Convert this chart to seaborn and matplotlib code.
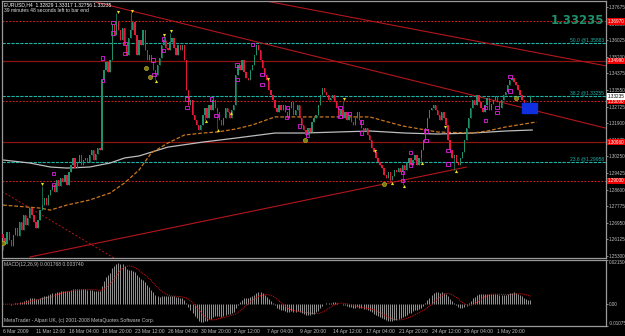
import numpy as np
import pandas as pd
import matplotlib
matplotlib.use("Agg")
import matplotlib.pyplot as plt
import seaborn as sns

# EURUSD H4 closes (6 Mar 2009 .. 5 May 2009)
closes = [
    1.2619, 1.2589, 1.2649, 1.2609, 1.2579, 1.2634, 1.2669, 1.2629,
    1.2699, 1.2659, 1.2733, 1.2684, 1.2719, 1.2768, 1.2733, 1.2699,
    1.2669, 1.2709, 1.2758, 1.2783, 1.2818, 1.2783, 1.2833, 1.2858,
    1.2883, 1.2848, 1.2907, 1.2878, 1.2917, 1.2897, 1.2932, 1.2883,
    1.2947, 1.2982, 1.3017, 1.2967, 1.2997, 1.3032, 1.2982, 1.3007,
    1.3017, 1.2997, 1.3032, 1.3057, 1.3007, 1.3037, 1.3066, 1.3057,
    1.3404, 1.3454, 1.3494, 1.3444, 1.3504, 1.3678, 1.3628, 1.3693,
    1.3653, 1.3603, 1.3663, 1.3578, 1.3529, 1.3613, 1.3653, 1.3693,
    1.3628, 1.3529, 1.3603, 1.3578, 1.3653, 1.3554, 1.3504, 1.3529,
    1.3494, 1.3454, 1.3429, 1.3479, 1.3514, 1.3578, 1.3603, 1.3563,
    1.3554, 1.3593, 1.3613, 1.3563, 1.3529, 1.3578, 1.3554, 1.3578,
    1.3504, 1.3355, 1.3280, 1.3305, 1.3230, 1.3206, 1.3181, 1.3156,
    1.3181, 1.3230, 1.3265, 1.3216, 1.3280, 1.3255, 1.3305, 1.3265,
    1.3245, 1.3206, 1.3181, 1.3216, 1.3265, 1.3245, 1.3216, 1.3255,
    1.3280, 1.3429, 1.3479, 1.3454, 1.3504, 1.3444, 1.3414, 1.3404,
    1.3454, 1.3479, 1.3529, 1.3578, 1.3554, 1.3504, 1.3464, 1.3429,
    1.3404, 1.3355, 1.3330, 1.3305, 1.3265, 1.3245, 1.3280, 1.3255,
    1.3280, 1.3245, 1.3216, 1.3265, 1.3295, 1.3230, 1.3255, 1.3280,
    1.3216, 1.3181, 1.3156, 1.3131, 1.3166, 1.3146, 1.3196, 1.3216,
    1.3230, 1.3280, 1.3330, 1.3365, 1.3345, 1.3330, 1.3305, 1.3315,
    1.3330, 1.3295, 1.3265, 1.3230, 1.3255, 1.3216, 1.3245, 1.3206,
    1.3230, 1.3196, 1.3181, 1.3216, 1.3245, 1.3206, 1.3166, 1.3156,
    1.3166, 1.3131, 1.3106, 1.3066, 1.3047, 1.3017, 1.2997, 1.2982,
    1.2967, 1.2932, 1.2917, 1.2947, 1.2907, 1.2927, 1.2957, 1.2947,
    1.2967, 1.2947, 1.2982, 1.2957, 1.2997, 1.3017, 1.2982, 1.3007,
    1.3032, 1.2982, 1.3017, 1.3057, 1.3106, 1.3166, 1.3216, 1.3255,
    1.3265, 1.3280, 1.3255, 1.3230, 1.3206, 1.3245, 1.3216, 1.3181,
    1.3106, 1.3057, 1.3017, 1.3032, 1.2997, 1.2982, 1.3017, 1.3047,
    1.3106, 1.3166, 1.3216, 1.3265, 1.3305, 1.3280, 1.3330, 1.3295,
    1.3265, 1.3245, 1.3280, 1.3315, 1.3255, 1.3285, 1.3305, 1.3325,
    1.3295, 1.3265, 1.3305, 1.3330, 1.3345, 1.3380, 1.3404, 1.3414,
    1.3394, 1.3380, 1.3355, 1.3330, 1.3305, 1.3280, 1.3265, 1.3283,
    1.33235,
]
first_open = 1.2640
last_ohlc = (1.32829, 1.33317, 1.32756, 1.33235)

# wick extremes that stand out (bar -> price)
spike_highs = {19: 1.2880, 55: 1.3735, 62: 1.3740, 78: 1.3620, 81: 1.3640,
               128: 1.3400, 165: 1.3300, 180: 1.3045, 214: 1.3165}
spike_lows = {0: 1.2560, 74: 1.3405, 98: 1.3205, 104: 1.3160, 110: 1.3245,
              188: 1.2898, 194: 1.2883, 203: 1.2997, 219: 1.2958}

# moving averages read at a few points (bar, price)
ma_grey_bars = [0, 13, 23, 31, 42, 52, 59, 66, 80, 97, 113, 132, 146, 162, 178, 195, 211, 228, 244, 257]
ma_grey_vals = [1.3007, 1.2992, 1.2972, 1.2967, 1.2972, 1.2992, 1.3017, 1.3027, 1.3071, 1.3096,
                1.3116, 1.3141, 1.3141, 1.3146, 1.3151, 1.3141, 1.3136, 1.3141, 1.3151, 1.3156]
ma_orange_bars = [0, 18, 23, 31, 42, 52, 59, 66, 72, 80, 88, 97, 104, 113, 121, 132, 146, 162, 178,
                  194, 211, 228, 235, 244, 259]
ma_orange_vals = [1.2783, 1.2768, 1.2758, 1.2783, 1.2808, 1.2843, 1.2893, 1.2957, 1.3042, 1.3091,
                  1.3131, 1.3141, 1.3146, 1.3161, 1.3181, 1.3221, 1.3221, 1.3221, 1.3221, 1.3176,
                  1.3146, 1.3141, 1.3151, 1.3171, 1.3196]

# horizontal levels
red_dash_levels = [1.3697, 1.3300, 1.2903]
red_solid_levels = [1.3499, 1.3096]
fib_levels = [1.35883, 1.33255, 1.29958]
fib_names = ["50.0", "38.2", "23.6"]

# trend lines (two anchors each: bar, price)
trend_a = [(56, 1.3764), (122, 1.3597)]
trend_b = [(125, 1.3802), (293, 1.3474)]
trend_c = [(13, 1.2525), (225, 1.2972)]
trend_d = [(0, 1.2848), (53, 1.2525)]

# markers
sq_bars = [53.4, 53.4, 59.2, 59.2, 48.5, 48.5, 24.3, 24.3, 77.7, 77.7, 72.8, 73.3, 89.3, 89.3,
           101.4, 103.4, 113.6, 113.6, 121.3, 125.7, 125.7, 138.3, 137.4, 143.7, 147.6, 163.6,
           163.6, 168.0, 173.8, 173.8, 193.7, 193.7, 198.0, 198.0, 205.3, 205.3, 216.0, 216.0,
           234.0, 234.0, 239.8, 239.8, 246.1, 246.1]
sq_vals = [1.3688, 1.3638, 1.3588, 1.3534, 1.3514, 1.3404, 1.2942, 1.2883, 1.3608, 1.3549,
           1.3504, 1.3434, 1.3310, 1.3270, 1.3310, 1.3226, 1.3479, 1.3409, 1.3583, 1.3434,
           1.3380, 1.3270, 1.3216, 1.3176, 1.3131, 1.3270, 1.3221, 1.3240, 1.3196, 1.3141,
           1.2947, 1.2907, 1.3042, 1.2982, 1.3151, 1.3106, 1.3052, 1.2987, 1.3270, 1.3201,
           1.3270, 1.3245, 1.3424, 1.3350]
dn_bars = [55.8, 62.6, 78.1, 81.5, 165.5, 180.6, 214.6, 18.9, 128.6]
dn_vals = [1.3742, 1.3747, 1.3628, 1.3648, 1.3310, 1.3052, 1.3171, 1.2888, 1.3409]
up_bars = [74.3, 98.5, 104.4, 110.7, 188.8, 194.7, 203.4, 219.9]
up_vals = [1.3399, 1.3201, 1.3156, 1.3240, 1.2893, 1.2878, 1.2992, 1.2952]
dot_bars = [69.4, 71.3, 146.6, 184.9, 249.0, 0.0]
dot_vals = [1.3464, 1.3419, 1.3106, 1.2888, 1.3315, 1.2594]
box_bars = (252.0, 259.0)
box_vals = (1.3240, 1.3290)

price_ticks = [1.25300, 1.26125, 1.26950, 1.27775, 1.28600, 1.29425, 1.30250, 1.31075,
               1.31900, 1.32725, 1.33550, 1.34375, 1.35200, 1.36025, 1.36850, 1.37675]
date_labels = ["6 Mar 2009", "11 Mar 12:00", "16 Mar 04:00", "18 Mar 20:00", "23 Mar 12:00",
               "26 Mar 04:00", "30 Mar 20:00", "2 Apr 12:00", "7 Apr 04:00", "9 Apr 20:00",
               "14 Apr 12:00", "17 Apr 04:00", "21 Apr 20:00", "24 Apr 12:00", "29 Apr 04:00",
               "1 May 20:00"]
macd_top, macd_bottom = 0.021506, -0.010753

# ---- build frame
df = pd.DataFrame({"close": closes})
df["bar"] = np.arange(len(df))
df["open"] = df["close"].shift(1).fillna(first_open)
df.loc[df.index[-1], "open"] = last_ohlc[0]
df["high"] = df[["open", "close"]].max(axis=1)
df["low"] = df[["open", "close"]].min(axis=1)
for b, v in spike_highs.items():
    df.loc[b, "high"] = max(df.loc[b, "high"], v)
for b, v in spike_lows.items():
    df.loc[b, "low"] = min(df.loc[b, "low"], v)
df.loc[df.index[-1], "high"] = last_ohlc[1]
df.loc[df.index[-1], "low"] = last_ohlc[2]

ema12 = df["close"].ewm(span=12, adjust=False).mean()
ema26 = df["close"].ewm(span=26, adjust=False).mean()
df["macd"] = ema12 - ema26
df["signal"] = df["macd"].rolling(9, min_periods=1).mean()

sns.set_style("dark")
plt.rcParams["font.family"] = ["Liberation Sans", "DejaVu Sans"]
fg = "#c0c0c0"
up_col, dn_col = "#1f8f6c", "#e8173c"
fs = 3.6
fs_ax = 3.3

fig = plt.figure(figsize=(6.25, 3.36), dpi=100, facecolor="black")
ax = fig.add_axes([2 / 625, 1 - 258 / 336, 604 / 625, 257 / 336], facecolor="black")
ax2 = fig.add_axes([2 / 625, 1 - 326 / 336, 604 / 625, 66 / 336], facecolor="black")

xlim = (-0.5, 292.7)
for a in (ax, ax2):
    a.set_xlim(*xlim)
    a.grid(False)
    for s in a.spines.values():
        s.set_color("#9a9a9a")
        s.set_linewidth(0.9)
ax.set_ylim(1.2520, 1.3797)

# horizontal levels
for lv in red_dash_levels:
    ax.axhline(lv, color="#d01f1f", lw=0.7, ls=(0, (2, 1.5)), zorder=1)
for lv in red_solid_levels:
    ax.axhline(lv, color="#8e1414", lw=0.9, zorder=1)
for lv, nm in zip(fib_levels, fib_names):
    ax.axhline(lv, color="#1fb3a6", lw=0.8, ls=(0, (3, 1)), zorder=1)
    ax.text(0.997, lv + 0.0004, f"{nm} @{lv:.5f}", transform=ax.get_yaxis_transform(),
            ha="right", va="bottom", color="#1fb3a6", fontsize=fs)

# trend lines
ax.axline(trend_a[0], trend_a[1], color="#b3161c", lw=0.8, zorder=1)
ax.axline(trend_b[0], trend_b[1], color="#b3161c", lw=0.8, zorder=1)
ax.plot([trend_c[0][0], trend_c[1][0]], [trend_c[0][1], trend_c[1][1]], color="#b3161c", lw=0.8, zorder=1)
ax.axline(trend_d[0], trend_d[1], color="#b3161c", lw=0.7, ls=(0, (2, 2)), zorder=1)

# moving averages
sns.lineplot(x=ma_grey_bars, y=ma_grey_vals, ax=ax, color="#bdbdbd", lw=0.9, zorder=2)
sns.lineplot(x=ma_orange_bars, y=ma_orange_vals, ax=ax, color="#c9771e", lw=0.9,
             linestyle=(0, (3, 1.5)), zorder=2)

# candles
bull = df["close"] >= df["open"]
cols = np.where(bull, up_col, dn_col)
ax.vlines(df["bar"], df["low"], df["high"], colors=cols, lw=0.5, zorder=3)
body = (df["close"] - df["open"]).abs().clip(lower=0.00015)
ax.bar(df["bar"], body, bottom=df[["open", "close"]].min(axis=1), width=0.65, color=cols,
       linewidth=0, zorder=3)

# markers
ax.scatter(sq_bars, sq_vals, marker="s", s=5, facecolors="none", edgecolors="#e020e0", lw=0.6, zorder=4)
ax.scatter(dn_bars, dn_vals, marker="v", s=5, color="#e8e020", lw=0, zorder=4)
ax.scatter(up_bars, up_vals, marker="^", s=5, color="#e8e020", lw=0, zorder=4)
ax.scatter(dot_bars, dot_vals, marker="o", s=9, color="#7a7a10", edgecolors="#c8c030", lw=0.4, zorder=4)
ax.add_patch(plt.Rectangle((box_bars[0], box_vals[0]), box_bars[1] - box_bars[0],
                           box_vals[1] - box_vals[0], color="#1030e0", zorder=5))

# right price axis
ax.yaxis.tick_right()
ax.set_yticks(price_ticks)
ax.set_yticklabels([f"{t:.5f}" for t in price_ticks])
ax.tick_params(axis="y", colors=fg, labelsize=fs_ax, length=1.2, width=0.5, pad=0.6)
ax.tick_params(axis="x", bottom=False, labelbottom=False)
for lv in red_dash_levels + red_solid_levels:
    ax.text(1.0025, lv, f"{lv:.5f}", transform=ax.get_yaxis_transform(), ha="left", va="center",
            fontsize=fs_ax, color="white", clip_on=False, zorder=6,
            bbox=dict(boxstyle="square,pad=0.2", fc="#ee0000", ec="none"))
ax.text(1.0025, last_ohlc[3], f"{last_ohlc[3]:.5f}", transform=ax.get_yaxis_transform(), ha="left",
        va="center", fontsize=fs_ax, color="black", clip_on=False, zorder=6,
        bbox=dict(boxstyle="square,pad=0.2", fc="white", ec="none"))

# header texts
ax.text(0.003, 0.995, "EURUSD,H4  " + " ".join(f"{v:.5f}" for v in last_ohlc), transform=ax.transAxes,
        ha="left", va="top", color="white", fontsize=fs)
ax.text(0.003, 0.972, "39 minutes 48 seconds left to bar end", transform=ax.transAxes,
        ha="left", va="top", color="#e0e0e0", fontsize=fs)
ax.text(0.997, 0.95, f"{last_ohlc[3]:.5f}", transform=ax.transAxes, ha="right", va="top",
        color="#1f8f6c", fontsize=8.5, fontweight="bold", family="DejaVu Sans")

# MACD panel
ax2.vlines(df["bar"], 0, df["macd"], colors="#bdbdbd", lw=0.55)
sns.lineplot(x=df["bar"], y=df["signal"], ax=ax2, color="#e01010", lw=0.7, linestyle=(0, (1, 1)))
ax2.set_ylim(macd_bottom, macd_top)
ax2.set_ylabel("")
ax2.set_xlabel("")
ax2.yaxis.tick_right()
ax2.set_yticks([macd_top, 0.0, macd_bottom])
ax2.set_yticklabels([f"{macd_top:.6f}", "0.00", f"{macd_bottom:.6f}"])
ax2.tick_params(axis="y", colors=fg, labelsize=fs_ax, length=1.2, width=0.5, pad=0.6)
mlabels = ax2.get_yticklabels()
mlabels[0].set_va("top")
mlabels[2].set_va("bottom")
ax2.set_xticks(np.arange(0, 16 * len(date_labels), 16))
ax2.set_xticklabels(date_labels, ha="left")
ax2.tick_params(axis="x", colors=fg, labelsize=fs, length=1.5, width=0.5, pad=0.8)
last = df.iloc[-1]
ax2.text(0.003, 0.97, f"MACD(12,26,9) {last['macd']:.6f} {last['signal']:.6f}", transform=ax2.transAxes,
         ha="left", va="top", color=fg, fontsize=fs)
ax2.text(0.003, 0.04, "MetaTrader - Alpari UK, (c) 2001-2008 MetaQuotes Software Corp.",
         transform=ax2.transAxes, ha="left", va="bottom", color=fg, fontsize=fs)

fig.savefig("out.png", dpi=100, facecolor="black")
